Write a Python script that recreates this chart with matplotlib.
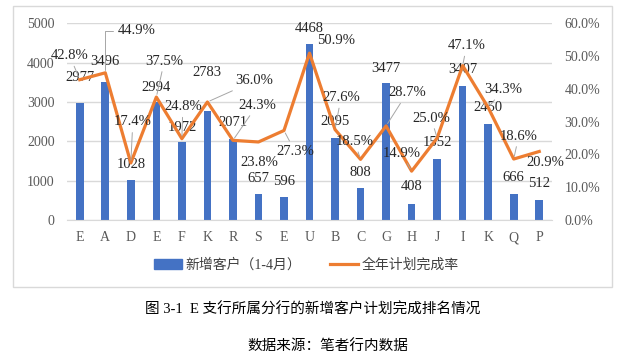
import numpy as np
import matplotlib.pyplot as plt
from matplotlib.patches import Rectangle
from matplotlib.ticker import FuncFormatter

# 字体：西文用衬线体，中文回退到 Noto CJK
plt.rcParams['font.family'] = ['Liberation Serif', 'Noto Sans CJK SC']
plt.rcParams['axes.unicode_minus'] = False

# 数据
branches = ["E", "A", "D", "E", "F", "K", "R", "S", "E", "U",
            "B", "C", "G", "H", "J", "I", "K", "Q", "P"]
new_customers = [2977, 3496, 1028, 2994, 1972, 2783, 2071, 657, 596, 4468,
                 2095, 808, 3477, 408, 1552, 3407, 2450, 666, 512]
plan_rate = [42.8, 44.9, 17.4, 37.5, 24.8, 36.0, 24.3, 23.8, 27.3, 50.9,
             27.6, 18.5, 28.7, 14.9, 25.0, 47.1, 34.3, 18.6, 20.9]

# 标签偏移（像素）与是否画引导线
bar_dy = [25, 21, 15, 15, 15, 38, 16, 16, 15, 16,
          16, 16, 15, 17, 16, 16, 16, 16, 16]
pct_off = [(-10, 24), (31, 42), (2, 41), (8, 36), (1, 32), (47, 21), (24, 35),
           (1, -21), (11, -21), (27, 13), (6, 32), (-6, 18), (21, 33),
           (-10, 18), (-6, 20), (4, 20), (15, 18), (5, 23), (6, -11)]
leader = [1, 1, 1, 1, 1, 1, 1, 0, 1, 0, 1, 1, 1, 1, 1, 1, 1, 1, 0]

blue = "#4472C4"
orange = "#ED7D31"
grid_c = "#D9D9D9"
tick_c = "#595959"

fig = plt.figure(figsize=(6.31, 3.6), dpi=100)
ax = fig.add_axes([67/631, 1-220/360, (552-67)/631, (220-23.3)/360])
ax2 = ax.twinx()

x = np.arange(len(branches))
ax.bar(x, new_customers, width=0.3, color=blue, zorder=2)
ax2.plot(x, plan_rate, color=orange, lw=2.3, zorder=3)

ax.set_xlim(-0.5, len(branches) - 0.5)
ax.set_ylim(0, 5000)
ax.set_yticks(np.arange(0, 5001, 1000))
ax2.set_ylim(0, 60)
ax2.set_yticks(np.arange(0, 61, 10))
ax2.yaxis.set_major_formatter(FuncFormatter(lambda v, p: "%.1f%%" % v))

ax.set_xticks(x)
ax.set_xticklabels(branches)
ax.grid(axis='y', color=grid_c, lw=1, zorder=0)
ax.set_axisbelow(True)

for a in (ax, ax2):
    for s in a.spines.values():
        s.set_visible(False)
ax.spines['bottom'].set_visible(True)
ax.spines['bottom'].set_color(grid_c)

ax.tick_params(axis='both', length=0, labelsize=10, labelcolor=tick_c)
ax.tick_params(axis='y', pad=9)
ax.tick_params(axis='x', pad=8)
ax2.tick_params(axis='y', length=0, labelsize=10, labelcolor=tick_c, pad=9)

# 柱子数值标签
for i, v in enumerate(new_customers):
    ax.annotate(str(v), (i, v), xytext=(0, bar_dy[i]), textcoords='offset pixels',
                ha='center', va='center', fontsize=10.5, color='#262626', zorder=5)

# 完成率标签
for i, p in enumerate(plan_rate):
    dx, dy = pct_off[i]
    props = None
    if leader[i]:
        props = dict(arrowstyle='-', color='#A6A6A6', lw=0.7, shrinkA=1, shrinkB=2)
        if i == 1:
            props['connectionstyle'] = 'angle,angleA=0,angleB=90,rad=0'
    ax2.annotate("%.1f%%" % p, (i, p), xytext=(dx, dy), textcoords='offset pixels',
                 ha='center', va='center', fontsize=10.5, color='#262626',
                 arrowprops=props, zorder=5)

# 图表外框
fig.patches.append(Rectangle((13/631, 1-287/360), (612-13)/631, (287-6)/360,
                             transform=fig.transFigure, fill=False,
                             edgecolor=grid_c, lw=1))

# 图例
h1 = plt.Rectangle((0, 0), 1, 1, color=blue)
h2, = ax.plot([], [], color=orange, lw=2.3)
fig.legend([h1, h2], ["新增客户（1-4月）", "全年计划完成率"], ncol=2,
           loc='center left', bbox_to_anchor=(154/631, 1-265/360),
           frameon=False, fontsize=10, handlelength=2.0, handletextpad=0.25,
           columnspacing=2.1, borderpad=0, borderaxespad=0, labelcolor='#404040')

# 图题与数据来源
fig.text(313/631, 1-310/360, "图 3-1  E 支行所属分行的新增客户计划完成排名情况",
         ha='center', va='center', fontsize=10.5)
fig.text(328/631, 1-346/360, "数据来源：笔者行内数据",
         ha='center', va='center', fontsize=10.5)

fig.savefig("out.png", dpi=100)
